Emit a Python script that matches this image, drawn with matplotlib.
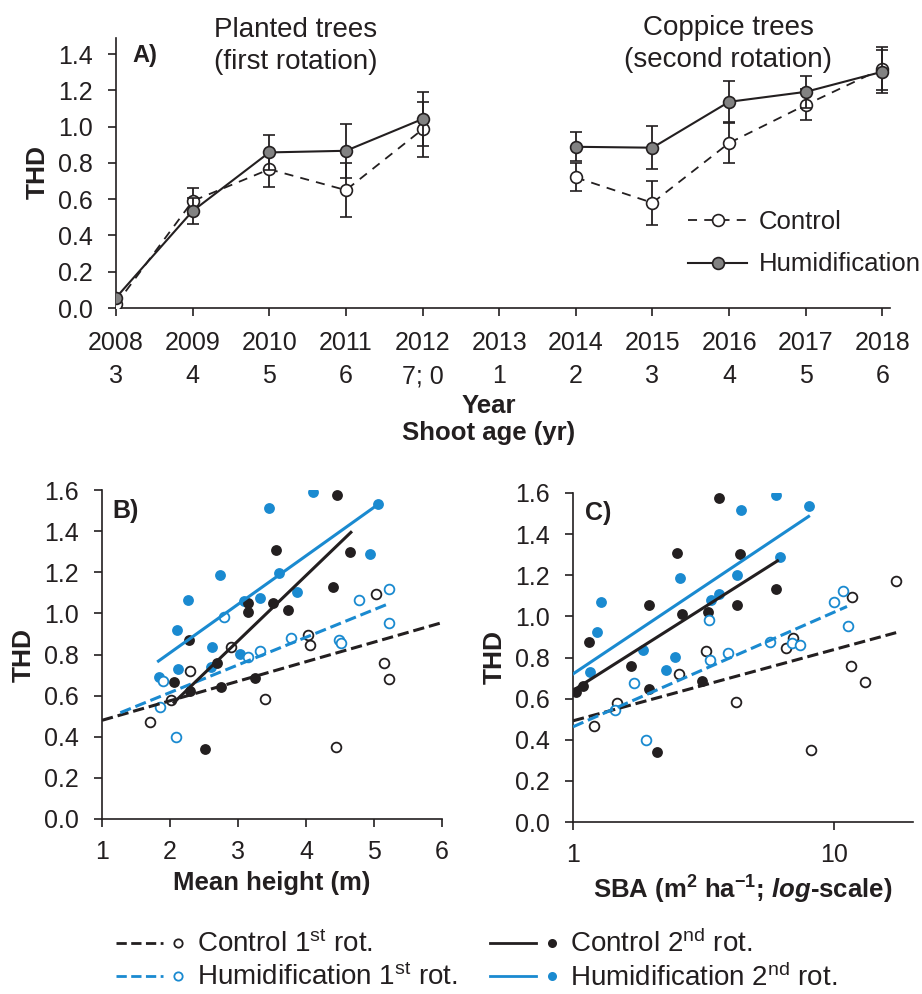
import numpy as np
import matplotlib
matplotlib.use('Agg')
import matplotlib.pyplot as plt
from matplotlib.lines import Line2D
from matplotlib.legend_handler import HandlerBase

plt.rcParams['font.family'] = ['Liberation Sans', 'DejaVu Sans']
plt.rcParams['mathtext.fontset'] = 'custom'
plt.rcParams['mathtext.rm'] = 'Liberation Sans'
plt.rcParams['mathtext.it'] = 'Liberation Sans:italic'
plt.rcParams['mathtext.bf'] = 'Liberation Sans:bold'
plt.rcParams['mathtext.bfit'] = 'Liberation Sans:italic:bold'

ink = '#231f20'
blue = '#1a8ad0'
grey = '#828282'
nan = np.nan

# --- panel A: THD per year ---
years = np.arange(2008, 2019)
shoot_age = ['3', '4', '5', '6', '7; 0', '1', '2', '3', '4', '5', '6']
thd_ctrl = [0.02, 0.59, 0.765, 0.65, 0.985, nan, 0.72, 0.58, 0.91, 1.12, 1.32]
err_ctrl = [0.0, 0.07, 0.095, 0.15, 0.15, nan, 0.077, 0.12, 0.113, 0.085, 0.12]
thd_hum = [0.057, 0.535, 0.858, 0.867, 1.042, nan, 0.889, 0.884, 1.137, 1.192, 1.303]
err_hum = [0.0, 0.07, 0.096, 0.15, 0.15, nan, 0.08, 0.12, 0.116, 0.088, 0.12]

# --- panel B: THD vs mean height ---
h_c1 = [1.70, 2.02, 2.30, 2.89, 3.40, 4.03, 4.06, 4.44, 5.03, 5.15, 5.22]
thd_b_c1 = [0.47, 0.577, 0.72, 0.835, 0.582, 0.895, 0.845, 0.352, 1.094, 0.757, 0.681]
h_h1 = [1.85, 1.90, 2.09, 2.79, 3.14, 3.32, 3.78, 4.48, 4.51, 4.78, 5.22, 5.22]
thd_b_h1 = [0.543, 0.671, 0.397, 0.981, 0.789, 0.817, 0.879, 0.870, 0.858, 1.065, 1.118, 0.952]
h_c2 = [4.45, 3.56, 4.65, 4.39, 3.14, 3.15, 3.52, 3.73, 2.28, 2.69, 2.06, 2.30, 2.75, 3.25, 2.52]
thd_b_c2 = [1.574, 1.307, 1.300, 1.130, 1.049, 1.008, 1.052, 1.016, 0.870, 0.760, 0.665, 0.622,
            0.640, 0.684, 0.342]
h_h2 = [4.10, 3.46, 5.06, 2.74, 3.61, 2.27, 3.33, 3.09, 3.87, 4.94, 2.10, 2.62, 3.03, 2.12, 1.84, 2.60]
thd_b_h2 = [1.589, 1.511, 1.530, 1.185, 1.198, 1.067, 1.075, 1.06, 1.104, 1.287, 0.919, 0.838,
            0.801, 0.73, 0.69, 0.74]
# fitted lines (end points)
fit_b_x = {'c1': [1.0, 6.0], 'h1': [1.27, 5.23], 'c2': [2.06, 4.66], 'h2': [1.83, 5.06]}
fit_b_y = {'c1': [0.48, 0.955], 'h1': [0.517, 1.049], 'c2': [0.567, 1.394], 'h2': [0.768, 1.530]}

# --- panel C: THD vs stand basal area ---
sba_c1 = [17.24, 11.69, 6.92, 6.55, 11.59, 13.11, 8.11, 4.22, 3.22, 2.55, 1.475, 1.20]
thd_c_c1 = [1.174, 1.096, 0.897, 0.848, 0.759, 0.682, 0.352, 0.582, 0.832, 0.720, 0.580, 0.468]
sba_h1 = [10.8, 9.94, 11.25, 3.30, 5.68, 6.90, 7.36, 3.93, 3.34, 1.71, 1.453, 1.91]
thd_c_h1 = [1.124, 1.069, 0.954, 0.983, 0.877, 0.872, 0.861, 0.820, 0.788, 0.674, 0.544, 0.398]
sba_c2 = [3.63, 2.51, 4.36, 5.98, 1.957, 2.604, 3.296, 4.257, 1.148, 1.674, 1.951, 3.125,
          1.030, 1.092, 2.094]
thd_c_c2 = [1.576, 1.308, 1.303, 1.132, 1.056, 1.010, 1.019, 1.053, 0.874, 0.759, 0.645, 0.686,
            0.630, 0.663, 0.341]
sba_h2 = [5.99, 7.97, 4.40, 6.17, 2.57, 4.26, 3.63, 3.36, 1.284, 1.236, 1.158, 1.85, 2.46, 2.27]
thd_c_h2 = [1.592, 1.535, 1.516, 1.288, 1.189, 1.199, 1.109, 1.080, 1.069, 0.923, 0.731, 0.837,
            0.801, 0.739]
fit_c_x = {'c1': [1.0, 17.24], 'h1': [1.0, 11.18], 'c2': [1.03, 6.06], 'h2': [1.0, 7.97]}
fit_c_y = {'c1': [0.492, 0.921], 'h1': [0.463, 1.048], 'c2': [0.650, 1.270], 'h2': [0.720, 1.486]}

W, H = 922, 994
fig = plt.figure(figsize=(W / 100, H / 100), dpi=100)


def px_axes(l, t, r, b):
    return fig.add_axes([l / W, 1 - b / H, (r - l) / W, (b - t) / H])


def style(ax, xpad):
    for s in ('top', 'right'):
        ax.spines[s].set_visible(False)
    for s in ('left', 'bottom'):
        ax.spines[s].set_color(ink)
        ax.spines[s].set_linewidth(1.2)
    ax.tick_params(direction='out', length=5.5, width=1.2, color=ink, labelcolor=ink,
                   labelsize=18)
    ax.tick_params(axis='y', pad=11)
    ax.tick_params(axis='x', pad=xpad)


# ---------- A ----------
axA = px_axes(116, 36, 890, 308)
style(axA, 11)
axA.errorbar(years, thd_ctrl, yerr=err_ctrl, color=ink, ls=(0, (5, 4)), lw=1.3,
             marker='o', ms=8.5, mfc='white', mec=ink, mew=1.2,
             ecolor=ink, elinewidth=1.3, capsize=4.5, capthick=1.3, zorder=3)
axA.errorbar(years, thd_hum, yerr=err_hum, color=ink, ls='-', lw=1.5,
             marker='o', ms=8.5, mfc=grey, mec=ink, mew=1.2,
             ecolor=ink, elinewidth=1.3, capsize=4.5, capthick=1.3, zorder=4)
axA.set_xlim(2008, 2018.1)
axA.set_ylim(0, 1.5)
axA.set_yticks(np.arange(0, 1.41, 0.2))
axA.set_yticklabels([f'{v:.1f}' for v in np.arange(0, 1.41, 0.2)])
axA.set_xticks(years)
axA.set_xticklabels([f'{y}\n{a}' for y, a in zip(years, shoot_age)], linespacing=1.5)
axA.spines['left'].set_bounds(0, 1.49)
axA.set_ylabel('THD', fontsize=19, fontweight='bold', color=ink, labelpad=6)
axA.text(0.021, 0.93, 'A)', transform=axA.transAxes, fontsize=17, fontweight='bold',
         color=ink, va='center')
fig.text(296 / W, 1 - 46 / H, 'Planted trees\n(first rotation)', ha='center', va='center',
         fontsize=20, color=ink, linespacing=1.33)
fig.text(728 / W, 1 - 44 / H, 'Coppice trees\n(second rotation)', ha='center', va='center',
         fontsize=20, color=ink, linespacing=1.33)
fig.text(489 / W, 1 - 394 / H, 'Year\nShoot age (yr)', ha='center', va='top', fontsize=18.5,
         fontweight='bold', color=ink, linespacing=1.15)
legA = [Line2D([], [], color=ink, ls=(0, (5, 4)), lw=1.3, marker='o', ms=8.5, mfc='white',
               mec=ink, mew=1.2),
        Line2D([], [], color=ink, ls='-', lw=1.5, marker='o', ms=8.5, mfc=grey, mec=ink, mew=1.2)]
fig.legend(legA, ['Control', 'Humidification'], loc='upper left',
           bbox_to_anchor=(688 / W, 1 - 210 / H), frameon=False, fontsize=18.5,
           handlelength=2.3, handletextpad=0.45, labelspacing=0.72, borderpad=0,
           borderaxespad=0, labelcolor=ink)


# ---------- B and C ----------
def scatter_panel(ax, xc1, yc1, xh1, yh1, xc2, yc2, xh2, yh2, fx, fy):
    ax.plot(xh2, yh2, 'o', ms=7.8, mfc=blue, mec=blue, mew=0, ls='none', zorder=2)
    ax.plot(xc2, yc2, 'o', ms=7.8, mfc=ink, mec=ink, mew=0, ls='none', zorder=2.1)
    ax.plot(xc1, yc1, 'o', ms=7, mfc='white', mec=ink, mew=1.3, ls='none', zorder=2.2)
    ax.plot(xh1, yh1, 'o', ms=7, mfc='white', mec=blue, mew=1.3, ls='none', zorder=2.3)
    ax.plot(fx['c1'], fy['c1'], color=ink, ls='--', lw=2.2, zorder=3)
    ax.plot(fx['h1'], fy['h1'], color=blue, ls='--', lw=2.2, zorder=3)
    ax.plot(fx['c2'], fy['c2'], color=ink, ls='-', lw=2.2, zorder=3)
    ax.plot(fx['h2'], fy['h2'], color=blue, ls='-', lw=2.2, zorder=3)
    ax.set_ylim(0, 1.6)
    ax.set_yticks(np.arange(0, 1.61, 0.2))
    ax.set_yticklabels([f'{v:.1f}' for v in np.arange(0, 1.61, 0.2)])
    ax.set_ylabel('THD', fontsize=19, fontweight='bold', color=ink, labelpad=6)


axB = px_axes(102, 490, 442, 819)
style(axB, 9.5)
scatter_panel(axB, h_c1, thd_b_c1, h_h1, thd_b_h1, h_c2, thd_b_c2, h_h2, thd_b_h2, fit_b_x, fit_b_y)
axB.set_xlim(1, 6)
axB.set_xticks(range(1, 7))
axB.set_xlabel('Mean height (m)', fontsize=18.5, fontweight='bold', color=ink, labelpad=5)
axB.text(0.03, 0.935, 'B)', transform=axB.transAxes, fontsize=18, fontweight='bold',
         color=ink, va='center')

axC = px_axes(573, 493, 913, 822)
style(axC, 9.5)
scatter_panel(axC, sba_c1, thd_c_c1, sba_h1, thd_c_h1, sba_c2, thd_c_c2, sba_h2, thd_c_h2,
              fit_c_x, fit_c_y)
axC.set_xscale('log')
axC.set_xlim(1, 20)
axC.set_xticks([1, 10])
axC.set_xticklabels(['1', '10'])
axC.xaxis.set_minor_locator(matplotlib.ticker.NullLocator())
axC.set_xlabel(r'SBA (m$^{\mathbf{2}}$ ha$^{\mathbf{-1}}$; $\mathbfit{log}$-scale)',
               fontsize=18.5, fontweight='bold', color=ink, labelpad=5)
axC.text(0.035, 0.94, 'C)', transform=axC.transAxes, fontsize=18, fontweight='bold',
         color=ink, va='center')


# ---------- bottom legend ----------
class LineDot(HandlerBase):
    def create_artists(self, legend, orig_handle, xdescent, ydescent, width, height,
                       fontsize, trans):
        line, dot = orig_handle
        y = (height - ydescent) / 2
        x0 = -xdescent
        seg = Line2D([x0, x0 + 0.70 * width], [y, y], color=line.get_color(),
                     ls=line.get_linestyle(), lw=line.get_linewidth(), transform=trans)
        pt = Line2D([x0 + 0.93 * width], [y], ls='none', marker='o', ms=dot.get_markersize(),
                    mfc=dot.get_markerfacecolor(), mec=dot.get_markeredgecolor(),
                    mew=dot.get_markeredgewidth(), transform=trans)
        return [seg, pt]


def lh(color, ls, filled):
    ln = Line2D([], [], color=color, ls=ls, lw=2.0)
    mk = Line2D([], [], marker='o', ls='none', ms=6.5 if filled else 6,
                mfc=color if filled else 'white', mec=color, mew=0 if filled else 1.3)
    return (ln, mk)


handles = [lh(ink, (0, (3, 1.6)), False), lh(blue, (0, (3, 1.6)), False),
           lh(ink, '-', True), lh(blue, '-', True)]
labels = [r'Control 1$^{\mathrm{st}}$ rot.', r'Humidification 1$^{\mathrm{st}}$ rot.',
          r'Control 2$^{\mathrm{nd}}$ rot.', r'Humidification 2$^{\mathrm{nd}}$ rot.']
fig.legend(handles, labels, handler_map={tuple: LineDot()}, ncol=2, loc='upper left',
           bbox_to_anchor=(116 / W, 1 - 930 / H), frameon=False, fontsize=20,
           handlelength=2.4, handletextpad=0.51, columnspacing=1.15, labelspacing=0.18,
           borderpad=0, borderaxespad=0, labelcolor=ink)

fig.savefig('out.png', dpi=100)
